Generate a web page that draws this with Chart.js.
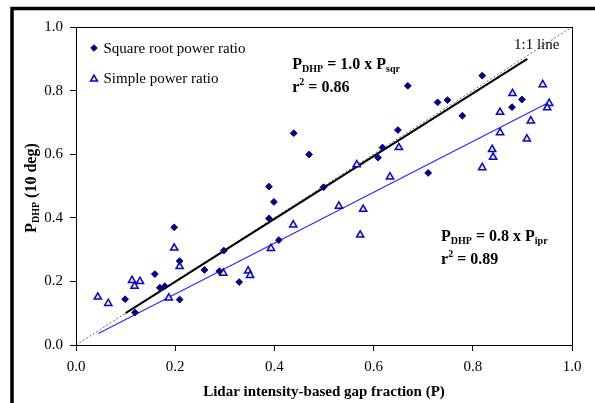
<!DOCTYPE html>
<html><head><meta charset="utf-8">
<script src="https://cdn.jsdelivr.net/npm/chart.js@4/dist/chart.umd.min.js"></script>
<style>html,body{margin:0;padding:0;background:#fff;}</style>
</head><body>
<canvas id="c" width="595" height="403" style="display:block;width:595px;height:403px"></canvas>
<script>
// Square root power ratio (diamonds)
const sqrX = [0.198,0.209,0.099,0.119,0.159,0.169,0.179,0.209,0.259,0.298,0.289,0.329,0.389,0.399,0.389,0.409,0.499,0.439,0.470,0.649,0.618,0.609,0.819,0.669,0.729,0.749,0.779,0.879,0.899,0.710];
const sqrY = [0.370,0.264,0.144,0.102,0.223,0.180,0.185,0.143,0.236,0.297,0.232,0.198,0.498,0.450,0.398,0.330,0.496,0.666,0.599,0.676,0.621,0.589,0.847,0.815,0.763,0.770,0.721,0.748,0.772,0.541];
// Simple power ratio (triangles)
const iprX = [0.044,0.065,0.113,0.118,0.129,0.198,0.209,0.187,0.297,0.393,0.438,0.347,0.351,0.530,0.579,0.573,0.633,0.566,0.651,0.941,0.880,0.855,0.954,0.950,0.917,0.855,0.909,0.839,0.841,0.819];
const iprY = [0.151,0.131,0.203,0.185,0.200,0.305,0.247,0.148,0.226,0.304,0.378,0.233,0.219,0.437,0.427,0.346,0.529,0.567,0.621,0.819,0.791,0.732,0.760,0.746,0.705,0.668,0.648,0.615,0.591,0.558];
// Fitted lines
const sqrFitX = [0.10, 0.91];
const sqrFitY = [0.10, 0.90];
const iprFitX = [0.045, 0.955];
const iprFitY = [0.036, 0.764];
const oneX = [0, 1];
const oneY = [0, 1];
// Ticks
const tickValues = [0, 0.2, 0.4, 0.6, 0.8, 1.0];

const pts = (xs, ys) => xs.map((x, i) => ({x, y: ys[i]}));
const SERIF = '"Liberation Serif", "Times New Roman", serif';

function drawRich(ctx, x, y, parts) {
  let cx = x;
  for (const p of parts) {
    ctx.font = (p.bold ? 'bold ' : '') + p.size + 'px ' + SERIF;
    ctx.fillText(p.t, cx, y + (p.dy || 0));
    cx += ctx.measureText(p.t).width;
  }
}

const overlay = {
  id: 'overlay',
  afterDraw(chart) {
    const ctx = chart.ctx, a = chart.chartArea;
    const xs = chart.scales.x, ys = chart.scales.y;
    ctx.save();
    // plot frame
    ctx.strokeStyle = '#000'; ctx.lineWidth = 1;
    ctx.strokeRect(Math.round(a.left) + 0.5, Math.round(a.top) + 0.5, Math.round(a.right - a.left), Math.round(a.bottom - a.top));
    // outer frame (left and top)
    ctx.lineWidth = 3.5;
    ctx.beginPath();
    ctx.moveTo(12, 403); ctx.lineTo(12, 8.5); ctx.lineTo(595, 8.5);
    ctx.stroke();
    // legend
    const lx = a.left + 18;
    ctx.fillStyle = '#000080'; ctx.strokeStyle = '#000080'; ctx.lineWidth = 1;
    Chart.helpers.drawPoint(ctx, {pointStyle: 'rectRot', radius: 3.3, borderWidth: 1}, lx, a.top + 21);
    ctx.fillStyle = '#ffff00'; ctx.strokeStyle = '#0000ff'; ctx.lineWidth = 1.5;
    Chart.helpers.drawPoint(ctx, {pointStyle: 'triangle', radius: 4, borderWidth: 1.5}, lx, a.top + 52);
    ctx.fillStyle = '#000'; ctx.textBaseline = 'alphabetic'; ctx.textAlign = 'left';
    drawRich(ctx, lx + 9.5, a.top + 26, [{t: 'Square root power ratio', size: 15}]);
    drawRich(ctx, lx + 9.5, a.top + 56, [{t: 'Simple power ratio', size: 15}]);
    // annotations
    let px = xs.getPixelForValue(0.436), py = ys.getPixelForValue(0.868);
    drawRich(ctx, px, py, [
      {t: 'P', size: 16, bold: true}, {t: 'DHP', size: 10, bold: true, dy: 3},
      {t: ' = 1.0 x P', size: 16, bold: true}, {t: 'sqr', size: 10, bold: true, dy: 3}]);
    drawRich(ctx, px, py + 23.5, [
      {t: 'r', size: 16, bold: true}, {t: '2', size: 10, bold: true, dy: -7},
      {t: ' = 0.86', size: 16, bold: true}]);
    px = xs.getPixelForValue(0.736); py = ys.getPixelForValue(0.326);
    drawRich(ctx, px, py, [
      {t: 'P', size: 16, bold: true}, {t: 'DHP', size: 10, bold: true, dy: 3},
      {t: ' = 0.8 x P', size: 16, bold: true}, {t: 'ipr', size: 10, bold: true, dy: 3}]);
    drawRich(ctx, px, py + 23, [
      {t: 'r', size: 16, bold: true}, {t: '2', size: 10, bold: true, dy: -7},
      {t: ' = 0.89', size: 16, bold: true}]);
    px = xs.getPixelForValue(0.883); py = ys.getPixelForValue(0.932);
    drawRich(ctx, px, py, [{t: '1:1 line', size: 15}]);
    // x title
    ctx.textAlign = 'center';
    ctx.font = 'bold 15px ' + SERIF;
    ctx.fillText('Lidar intensity-based gap fraction (P)', (a.left + a.right) / 2, 396);
    // y title (rotated, with subscript)
    ctx.textAlign = 'left';
    ctx.translate(36, (a.top + a.bottom) / 2 + 2);
    ctx.rotate(-Math.PI / 2);
    const parts = [{t: 'P', size: 16, bold: true}, {t: 'DHP', size: 10, bold: true, dy: 3}, {t: ' (10 deg)', size: 16, bold: true}];
    let w = 0;
    for (const p of parts) { ctx.font = 'bold ' + p.size + 'px ' + SERIF; w += ctx.measureText(p.t).width; }
    drawRich(ctx, -w / 2, 0, parts);
    ctx.restore();
  }
};

const axisCommon = (fitFn) => ({
  type: 'linear', min: 0, max: 1,
  afterBuildTicks: (s) => { s.ticks = tickValues.map(v => ({value: v})); },
  afterFit: fitFn,
  border: {display: true, color: '#000', width: 1},
  grid: {display: true, drawOnChartArea: false, drawTicks: true, tickLength: 6, color: '#000', lineWidth: 1},
  title: {display: false}
});

const xAxis = axisCommon((s) => { s.height = 58; });
xAxis.ticks = {color: '#000', font: {family: SERIF, size: 15}, padding: 7, maxRotation: 0, callback: (v) => Number(v).toFixed(1)};
const yAxis = axisCommon((s) => { s.width = 76; });
yAxis.ticks = {color: '#000', font: {family: SERIF, size: 15}, padding: 7, callback: (v) => Number(v).toFixed(1)};

new Chart(document.getElementById('c'), {
  type: 'scatter',
  data: {
    datasets: [
      {label: 'Square root power ratio', data: pts(sqrX, sqrY), pointStyle: 'rectRot', pointRadius: 3.4,
       backgroundColor: '#000080', borderColor: '#000080', borderWidth: 1, showLine: false},
      {label: 'Simple power ratio', data: pts(iprX, iprY), pointStyle: 'triangle', pointRadius: 4.2,
       backgroundColor: '#ffff00', borderColor: '#0000ff', borderWidth: 1.5, showLine: false},
      {label: 'sqr fit', data: pts(sqrFitX, sqrFitY), showLine: true, pointRadius: 0, borderColor: '#000', borderWidth: 2, fill: false},
      {label: 'ipr fit', data: pts(iprFitX, iprFitY), showLine: true, pointRadius: 0, borderColor: '#2a2aff', borderWidth: 1.2, fill: false},
      {label: '1:1', data: pts(oneX, oneY), showLine: true, pointRadius: 0, borderColor: '#666', borderWidth: 1, borderDash: [2, 2], fill: false}
    ]
  },
  options: {
    responsive: false, animation: false, devicePixelRatio: 1,
    layout: {padding: {left: 0, top: 27, right: 23, bottom: 0}},
    plugins: {legend: {display: false}, tooltip: {enabled: false}},
    events: [],
    scales: {x: xAxis, y: yAxis}
  },
  plugins: [overlay]
});
</script>
</body></html>
